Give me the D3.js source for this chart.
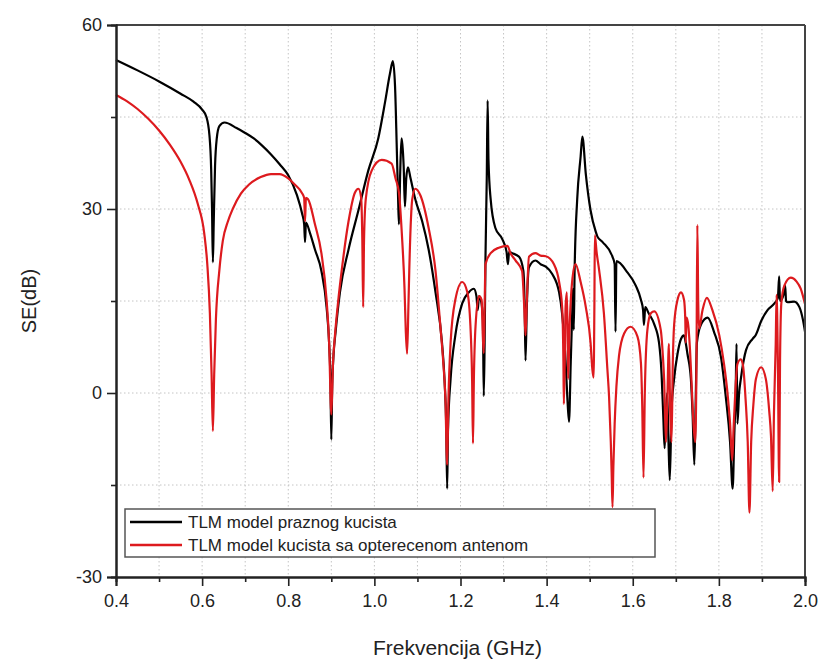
<!DOCTYPE html>
<html>
<head>
<meta charset="utf-8">
<script src="https://cdn.jsdelivr.net/npm/d3@7"></script>
<style>
  html, body { margin: 0; padding: 0; background: #fff; }
  svg text { font-family: "Liberation Sans", Arial, sans-serif; fill: #222; }
</style>
</head>
<body>
<svg id="chart" width="823" height="659"></svg>
<script>
// ---- data ----
const seriesNames = ["TLM model praznog kucista", "TLM model kucista sa opterecenom antenom"];
const seriesColors = ["#000000", "#dd1a1e"];

const freqEmpty = [0.400,0.450,0.500,0.550,0.580,0.600,0.610,0.617,0.621,0.623,0.625,0.627,0.630,0.634,0.640,0.652,0.680,0.700,0.720,0.740,0.760,0.780,0.800,0.820,0.832,0.837,0.839,0.841,0.850,0.862,0.877,0.889,0.895,0.898,0.900,0.902,0.905,0.910,0.920,0.940,0.963,0.986,1.009,1.025,1.036,1.043,1.048,1.052,1.055,1.057,1.060,1.063,1.065,1.068,1.071,1.074,1.078,1.084,1.095,1.111,1.126,1.142,1.157,1.163,1.167,1.169,1.171,1.177,1.188,1.204,1.219,1.231,1.237,1.240,1.243,1.249,1.252,1.254,1.256,1.258,1.261,1.263,1.265,1.270,1.281,1.297,1.307,1.310,1.313,1.320,1.336,1.346,1.349,1.351,1.354,1.359,1.374,1.386,1.398,1.413,1.429,1.436,1.444,1.448,1.452,1.456,1.459,1.461,1.463,1.465,1.471,1.479,1.483,1.491,1.502,1.514,1.518,1.530,1.553,1.558,1.560,1.562,1.570,1.584,1.607,1.619,1.624,1.626,1.629,1.637,1.650,1.661,1.667,1.671,1.674,1.677,1.680,1.683,1.686,1.690,1.696,1.704,1.712,1.719,1.723,1.727,1.735,1.739,1.743,1.746,1.749,1.758,1.774,1.789,1.805,1.816,1.826,1.832,1.836,1.839,1.841,1.843,1.847,1.851,1.863,1.878,1.886,1.898,1.913,1.929,1.937,1.940,1.942,1.950,1.954,1.956,1.960,1.975,1.987,1.995,2.000];
const seEmpty   = [54.3,52.6,50.8,48.8,47.5,46.2,45.0,42.0,36.5,30,21.3,28,37,41.5,43.5,44.1,43.2,42.4,41.5,40.3,38.9,37.3,35.5,32.3,29.3,27.5,24.6,27.8,26.2,23.4,19.9,14,8,2,-7.6,1,6,10,16.4,23.4,29.8,36.3,41.5,47.5,52,54.1,50,40,32,27.5,36,41.5,40.5,37,30.4,35,36.8,35,31.6,28,23.4,16.4,8.2,2,-6,-15.6,-6,2.3,9.4,14.6,16.4,17,15.8,13.5,15.8,14.5,12,-0.5,8,22,35,47.7,38,31.6,26.9,25.1,23,21,23,22.8,22.2,19.9,14,5.3,14,20.5,21.6,21,20.6,19.4,16.4,12.9,5.3,-0.6,-4.7,5,12,17,10.3,20,31.6,38.6,41.8,35.7,29.8,26.3,25.5,24.6,22.2,21,10,21.5,21.2,20.0,17.5,15.2,13.5,11.1,14,13,11.2,8.2,3,-4,-9,-3.5,0,-8,-14.2,-3,2.3,6.4,8.8,9.4,8.2,6.4,2.3,-3.5,-11.7,-2,8.2,11.1,12.3,9.9,5.8,-0.6,-8,-15.6,-6.4,0,8,-5,0,2.3,7,8.8,9.5,11.7,13.5,14.6,15.5,19,15,16,17.5,15,14.8,14.9,14,12,10];

const freqLoaded = [0.400,0.425,0.450,0.475,0.500,0.525,0.550,0.570,0.590,0.605,0.612,0.618,0.622,0.625,0.628,0.632,0.640,0.648,0.660,0.671,0.690,0.709,0.736,0.760,0.780,0.800,0.815,0.831,0.837,0.839,0.841,0.846,0.862,0.877,0.889,0.895,0.900,0.904,0.908,0.916,0.924,0.940,0.955,0.963,0.969,0.972,0.974,0.976,0.980,0.994,1.017,1.040,1.049,1.057,1.064,1.070,1.073,1.076,1.079,1.081,1.088,1.095,1.107,1.126,1.142,1.153,1.160,1.165,1.169,1.172,1.177,1.188,1.204,1.216,1.223,1.227,1.229,1.231,1.235,1.243,1.249,1.252,1.254,1.256,1.258,1.270,1.289,1.309,1.316,1.328,1.343,1.348,1.351,1.354,1.359,1.374,1.386,1.398,1.417,1.429,1.436,1.439,1.440,1.442,1.444,1.447,1.449,1.450,1.453,1.460,1.467,1.479,1.491,1.502,1.506,1.509,1.511,1.512,1.516,1.522,1.533,1.541,1.545,1.549,1.551,1.553,1.555,1.558,1.562,1.568,1.580,1.595,1.611,1.619,1.622,1.625,1.628,1.634,1.642,1.650,1.665,1.670,1.673,1.677,1.680,1.684,1.687,1.690,1.693,1.696,1.704,1.712,1.719,1.722,1.723,1.725,1.729,1.733,1.737,1.741,1.745,1.748,1.750,1.752,1.754,1.762,1.772,1.785,1.801,1.812,1.820,1.826,1.831,1.834,1.838,1.843,1.851,1.856,1.862,1.867,1.871,1.875,1.880,1.886,1.898,1.909,1.917,1.921,1.925,1.928,1.932,1.934,1.937,1.940,1.942,1.945,1.952,1.967,1.980,1.990,2.000];
const seLoaded   = [48.6,47.6,46.3,44.7,42.8,40.5,37.7,34.8,30.8,26.0,21.0,13,3,-6.2,3,12,20,24.8,28,30,32.5,34,35.2,35.7,35.7,35,34,32.7,31.8,28,31.8,31.6,27.5,22.8,15.2,8,-3.5,5,9,15,19.9,28,32.7,33.3,32,25,14,25,31.6,36.3,38,37.4,35,32.7,25.7,17,10,6.4,14,19.9,31.6,33.3,32.2,26.9,19.9,11.1,5,-1,-11.7,-1,8.2,15.2,18.1,16.4,11,2,-8.2,2,11,15.8,15.2,9,6.5,14,21,22.8,23.7,24,22.8,21.6,19.9,14,9.4,15,22.2,22.8,22.4,22.3,21,18.1,14,5,-1.8,5,14,16.4,8,2.3,10,18.7,21,18.1,14,8.2,4,2.5,15,25.7,23,20,13,4,-0.6,-8,-13,-18.6,-12,-5,1,6,9.7,10.8,9.2,4.9,-2,-13.8,0,10.3,13,13.3,10.3,6,2,-8,-2,8,-3,-8,5,11,15.2,16.4,15.2,12,8.2,12.3,11,7,1,-5,-8,5,27.4,15,10.5,13.5,15.5,13.5,9.4,4.7,0,-5,-11,-6,0,4.7,5.5,4.5,-1,-8,-19.5,-8,-2,2.3,4.2,2.3,-3,-7,-16,-3,8,16,5,-14.5,5,14.6,17.5,18.8,18.2,17,14.5];

const xMajorTicks = [0.4, 0.6, 0.8, 1.0, 1.2, 1.4, 1.6, 1.8, 2.0];
const xMinorTicks = [0.5, 0.7, 0.9, 1.1, 1.3, 1.5, 1.7, 1.9];
const yMajorTicks = [60, 30, 0, -30];
const yMinorTicks = [45, 15, -15];
const xTitle = "Frekvencija (GHz)";
const yTitle = "SE(dB)";

// ---- layout ----
const svg = d3.select("#chart");
const L = 116, T = 25, R = 805, B = 577;

const x = d3.scaleLinear().domain([0.4, 2.0]).range([L, R]);
const y = d3.scaleLinear().domain([-30, 60]).range([B, T]);

// grid
const grid = svg.append("g");
grid.selectAll("line.vg")
  .data(xMajorTicks.concat(xMinorTicks).filter(d => d > 0.4 && d < 2.0))
  .join("line")
  .attr("x1", d => x(d)).attr("x2", d => x(d))
  .attr("y1", T).attr("y2", B)
  .attr("stroke", "#c4c4c4").attr("stroke-width", 1).attr("stroke-dasharray", "1.5,2.5");
grid.selectAll("line.hg")
  .data(yMajorTicks.concat(yMinorTicks).filter(d => d > -30 && d < 60))
  .join("line")
  .attr("x1", L).attr("x2", R)
  .attr("y1", d => y(d)).attr("y2", d => y(d))
  .attr("stroke", "#c4c4c4").attr("stroke-width", 1).attr("stroke-dasharray", "1.5,2.5");

// curves
const line = d3.line().x(d => x(d[0])).y(d => y(d[1])).curve(d3.curveMonotoneX);
const dataEmpty = freqEmpty.map((f, i) => [f, seEmpty[i]]);
const dataLoaded = freqLoaded.map((f, i) => [f, seLoaded[i]]);

const plot = svg.append("g");
plot.append("path").datum(dataEmpty).attr("d", line)
  .attr("fill", "none").attr("stroke", seriesColors[0]).attr("stroke-width", 2.2)
  .attr("stroke-linejoin", "round");
plot.append("path").datum(dataLoaded).attr("d", line)
  .attr("fill", "none").attr("stroke", seriesColors[1]).attr("stroke-width", 2.2)
  .attr("stroke-linejoin", "round");

// frame (top & right)
svg.append("line").attr("x1", L).attr("x2", R).attr("y1", T).attr("y2", T)
  .attr("stroke", "#444").attr("stroke-width", 2);
svg.append("line").attr("x1", R).attr("x2", R).attr("y1", T).attr("y2", B)
  .attr("stroke", "#444").attr("stroke-width", 2);

// axes
const xAxis = d3.axisBottom(x).tickValues(xMajorTicks).tickFormat(d3.format(".1f")).tickSize(9).tickPadding(8);
const xAxisMinor = d3.axisBottom(x).tickValues(xMinorTicks).tickFormat("").tickSize(5);
const yAxis = d3.axisLeft(y).tickValues(yMajorTicks).tickFormat(d => String(d)).tickSize(9).tickPadding(5);
const yAxisMinor = d3.axisLeft(y).tickValues(yMinorTicks).tickFormat("").tickSize(5);

function styleAxis(g) {
  g.select(".domain").attr("stroke", "#222").attr("stroke-width", 2);
  g.selectAll(".tick line").attr("stroke", "#222").attr("stroke-width", 1.6);
  g.selectAll(".tick text").attr("font-size", 18).attr("fill", "#222")
    .attr("font-family", "'Liberation Sans', Arial, sans-serif");
}
svg.append("g").attr("transform", `translate(0,${B})`).call(xAxisMinor).call(styleAxis);
svg.append("g").attr("transform", `translate(0,${B})`).call(xAxis).call(styleAxis);
svg.append("g").attr("transform", `translate(${L},0)`).call(yAxisMinor).call(styleAxis);
svg.append("g").attr("transform", `translate(${L},0)`).call(yAxis).call(styleAxis);

// titles
svg.append("text").attr("x", (L + R) / 2 - 3).attr("y", 655)
  .attr("text-anchor", "middle").attr("font-size", 21).text(xTitle);
svg.append("text").attr("transform", `translate(36,${(T + B) / 2}) rotate(-90)`)
  .attr("text-anchor", "middle").attr("font-size", 20).text(yTitle);

// legend
const lg = svg.append("g");
lg.append("rect").attr("x", 125).attr("y", 509).attr("width", 530).attr("height", 48)
  .attr("fill", "#fff").attr("stroke", "#555").attr("stroke-width", 1.5);
seriesNames.forEach((name, i) => {
  const yy = 522 + i * 23;
  lg.append("line").attr("x1", 130).attr("x2", 182).attr("y1", yy).attr("y2", yy)
    .attr("stroke", seriesColors[i]).attr("stroke-width", 2.5);
  lg.append("text").attr("x", 188).attr("y", yy + 6).attr("font-size", 17).text(name);
});
</script>
</body>
</html>
